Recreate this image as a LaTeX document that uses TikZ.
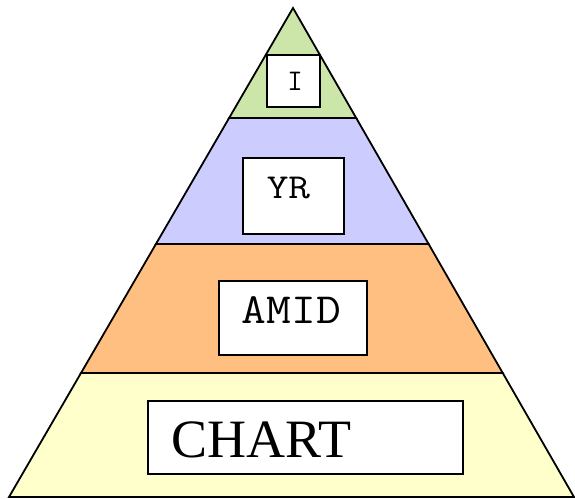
\documentclass[tikz,border=0pt]{standalone}
\usepackage{fontspec}
\newfontfamily\chartfont{Liberation Serif}
\usetikzlibrary{calc}
\definecolor{bandgreen}{RGB}{204,230,170}
\definecolor{bandblue}{RGB}{204,204,255}
\definecolor{bandorange}{RGB}{255,191,128}
\definecolor{bandyellow}{RGB}{255,255,204}
\begin{document}
\begin{tikzpicture}[x=0.5pt,y=-0.5pt,
  band/.style={draw=black,line width=0.9pt,line join=miter},
  labelbox/.style={draw=black,fill=white,line width=0.9pt},
  lbl/.style={inner sep=0pt,anchor=base}]
\useasboundingbox (0,0) rectangle (575,499);
\coordinate (apex) at (293,8);
\coordinate (bl) at (9,497);
\coordinate (br) at (574,497);
% band boundary points
\coordinate (l1) at ($(apex)!{110/489}!(bl)$);
\coordinate (r1) at ($(apex)!{110/489}!(br)$);
\coordinate (l2) at ($(apex)!{236/489}!(bl)$);
\coordinate (r2) at ($(apex)!{236/489}!(br)$);
\coordinate (l3) at ($(apex)!{365/489}!(bl)$);
\coordinate (r3) at ($(apex)!{365/489}!(br)$);
% bands
\filldraw[band,fill=bandyellow] (l3) -- (r3) -- (br) -- (bl) -- cycle;
\filldraw[band,fill=bandorange] (l2) -- (r2) -- (r3) -- (l3) -- cycle;
\filldraw[band,fill=bandblue] (l1) -- (r1) -- (r2) -- (l2) -- cycle;
\filldraw[band,fill=bandgreen] (apex) -- (r1) -- (l1) -- cycle;
% boxes
\draw[labelbox] (267,55) rectangle (320,107);
\draw[labelbox] (243,158) rectangle (344,234);
\draw[labelbox] (219,281) rectangle (367,355);
\draw[labelbox] (148,401) rectangle (463,474);
% labels
\node[lbl,font=\ttfamily\fontsize{15}{17}\selectfont] (ti) at (295,90) {I};
\node[lbl,font=\ttfamily\fontsize{17.5}{19}\selectfont] (tyr) at (288.5,198) {\scalebox{1.2}[1]{YR}};
\node[lbl,font=\ttfamily\fontsize{21.5}{24}\selectfont] (tamid) at (291.5,323) {\scalebox{1.12}[1]{AMID}};
\node[lbl,font=\chartfont\fontsize{27}{30}\selectfont] (tchart) at (261.5,457) {CHART};
\end{tikzpicture}
\end{document}
